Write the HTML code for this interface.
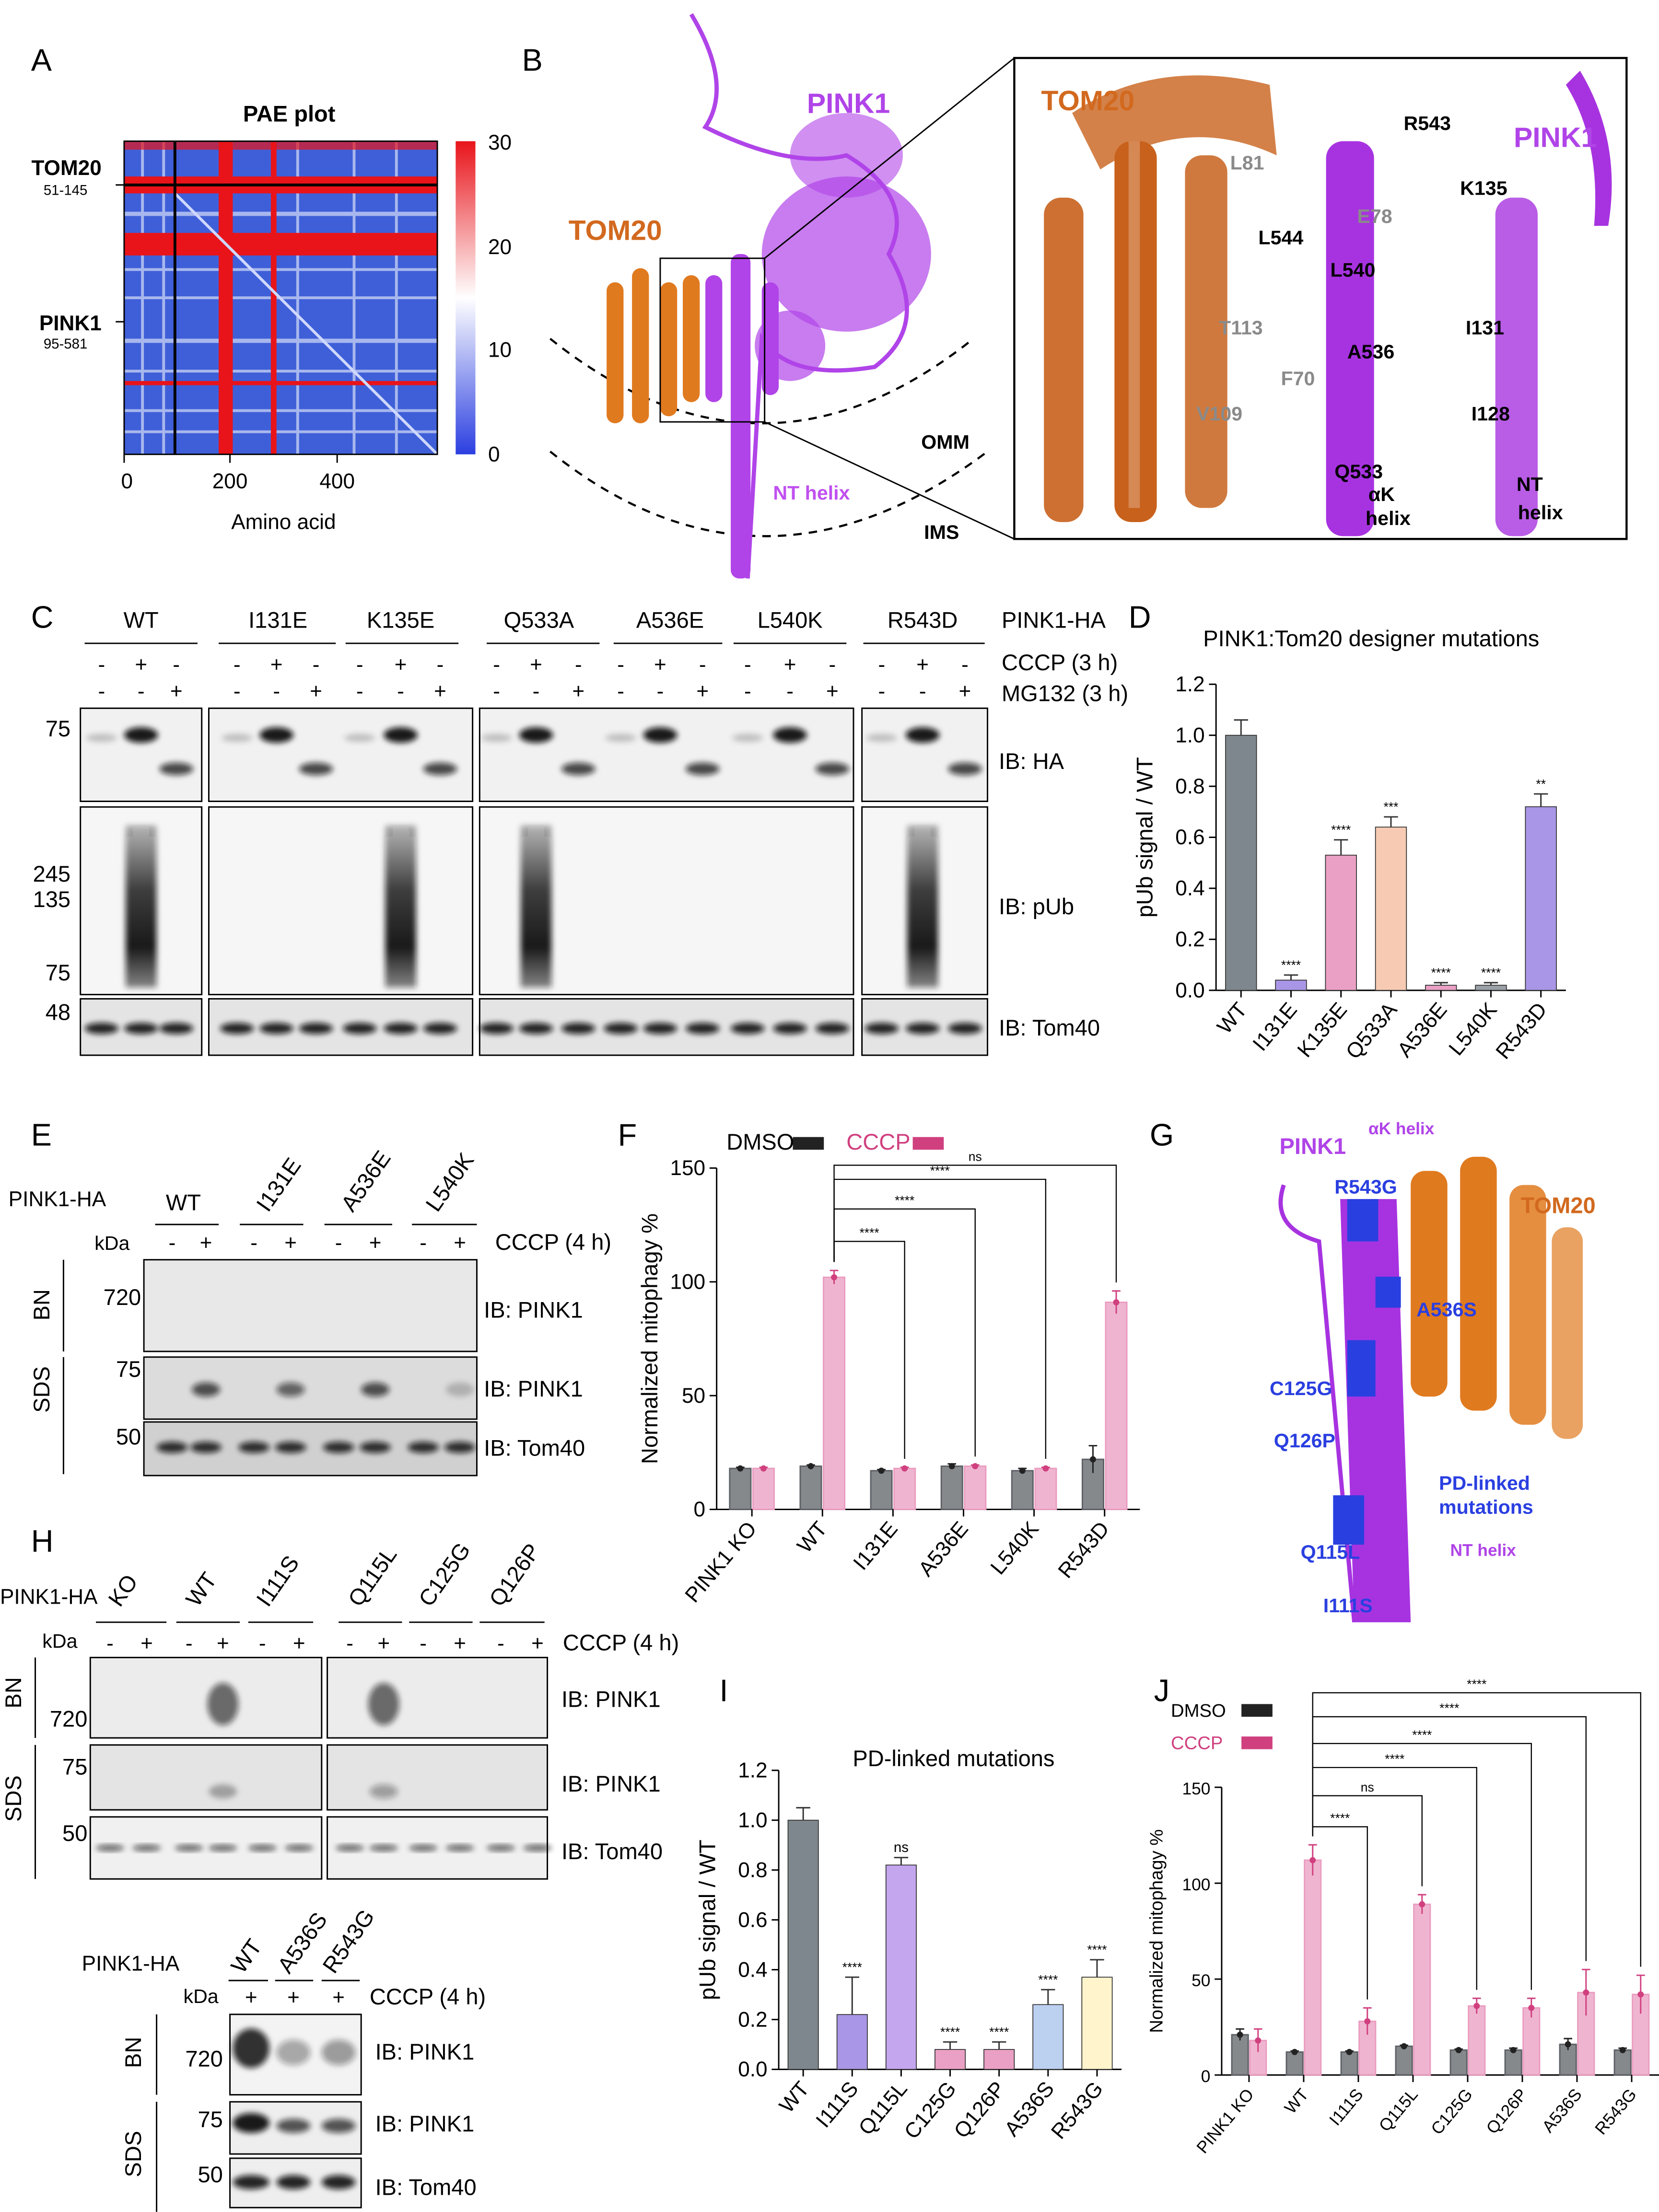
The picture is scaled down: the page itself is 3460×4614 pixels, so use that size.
<!DOCTYPE html>
<html><head><meta charset="utf-8">
<style>
html,body{margin:0;padding:0;background:#fff;}
svg{display:block;font-family:"Liberation Sans",Arial,sans-serif;}
</style></head>
<body>
<svg id="fig" xmlns="http://www.w3.org/2000/svg" width="3460" height="4614" viewBox="0 0 1176 1568">
<defs>
<filter id="bl" x="-50%" y="-50%" width="200%" height="200%"><feGaussianBlur stdDeviation="2"/></filter>
<filter id="bl2" x="-50%" y="-50%" width="200%" height="200%"><feGaussianBlur stdDeviation="4"/></filter>
<linearGradient id="cbar" x1="0" y1="1" x2="0" y2="0"><stop offset="0" stop-color="#2b3fe0"/><stop offset="0.5" stop-color="#ffffff"/><stop offset="1" stop-color="#e8141a"/></linearGradient>
<linearGradient id="smear" x1="0" y1="0" x2="0" y2="1"><stop offset="0" stop-color="#111" stop-opacity="0.3"/><stop offset="0.4" stop-color="#111" stop-opacity="0.8"/><stop offset="0.75" stop-color="#111" stop-opacity="0.95"/><stop offset="1" stop-color="#111" stop-opacity="0.5"/></linearGradient>
</defs>
<rect width="1176" height="1568" fill="#fff"/>
<g font-size="22">
<text x="22" y="50">A</text><text x="370" y="50">B</text><text x="22" y="445">C</text><text x="800" y="445">D</text>
<text x="22" y="812">E</text><text x="438" y="812">F</text><text x="815" y="812">G</text><text x="22" y="1100">H</text>
<text x="510" y="1206">I</text><text x="818" y="1206">J</text>
</g>
<!-- Panel A -->
<g>
<text x="205" y="86" font-size="16" font-weight="bold" text-anchor="middle">PAE plot</text>
<rect x="88" y="100" width="222" height="222" fill="#3f5fd8"/>
<g fill="#fff" opacity="0.55">
<rect x="88" y="150" width="222" height="3"/><rect x="88" y="190" width="222" height="2"/><rect x="88" y="210" width="222" height="2"/><rect x="88" y="240" width="222" height="3"/><rect x="88" y="262" width="222" height="2"/><rect x="88" y="290" width="222" height="2"/><rect x="88" y="305" width="222" height="2"/>
<rect x="100" y="100" width="2" height="222"/><rect x="115" y="100" width="2" height="222"/><rect x="210" y="100" width="2" height="222"/><rect x="250" y="100" width="2" height="222"/><rect x="280" y="100" width="2" height="222"/>
</g>
<rect x="88" y="125" width="222" height="12" fill="#e8141a"/>
<rect x="88" y="165" width="222" height="16" fill="#e8141a"/>
<rect x="88" y="270" width="222" height="3" fill="#e8141a"/>
<rect x="155" y="100" width="10" height="222" fill="#e8141a"/>
<rect x="192" y="100" width="4" height="222" fill="#e8141a"/>
<rect x="88" y="100" width="222" height="6" fill="#e8141a" opacity="0.7"/>
<line x1="124" y1="137" x2="310" y2="322" stroke="#cfd8ff" stroke-width="2"/>
<line x1="88" y1="131" x2="310" y2="131" stroke="#000" stroke-width="2"/>
<line x1="124" y1="100" x2="124" y2="322" stroke="#000" stroke-width="2"/>
<rect x="88" y="100" width="222" height="222" fill="none" stroke="#000"/>
<rect x="323" y="100" width="14" height="222" fill="url(#cbar)"/>
<g font-size="15"><text x="346" y="106">30</text><text x="346" y="180">20</text><text x="346" y="253">10</text><text x="346" y="327">0</text></g>
<g stroke="#000"><line x1="88" y1="322" x2="88" y2="328"/><line x1="163" y1="322" x2="163" y2="328"/><line x1="239" y1="322" x2="239" y2="328"/><line x1="82" y1="131" x2="88" y2="131"/><line x1="82" y1="228" x2="88" y2="228"/></g>
<g font-size="15" text-anchor="middle"><text x="90" y="346">0</text><text x="163" y="346">200</text><text x="239" y="346">400</text><text x="201" y="375">Amino acid</text></g>
<text x="72" y="124" font-size="15" font-weight="bold" text-anchor="end">TOM20</text><text x="62" y="138" font-size="10" text-anchor="end">51-145</text>
<text x="72" y="234" font-size="15" font-weight="bold" text-anchor="end">PINK1</text><text x="62" y="247" font-size="10" text-anchor="end">95-581</text>
</g>
<!-- Panel B -->
<g>
<path d="M390 240 Q540 360 690 240" fill="none" stroke="#000" stroke-dasharray="6,5" stroke-width="1.5"/>
<path d="M390 320 Q540 440 700 320" fill="none" stroke="#000" stroke-dasharray="6,5" stroke-width="1.5"/>
<text x="653" y="318" font-size="14" font-weight="bold">OMM</text><text x="655" y="382" font-size="14" font-weight="bold">IMS</text>
<path d="M490 10 Q520 60 500 90 Q560 120 600 110 Q650 140 630 180 Q660 230 620 260 Q560 270 540 240 L530 410" fill="none" stroke="#b044e8" stroke-width="3"/>
<g fill="#b044e8"><rect x="518" y="180" width="14" height="230" rx="6"/><rect x="500" y="195" width="12" height="90" rx="6"/><rect x="540" y="200" width="12" height="80" rx="6"/><ellipse cx="600" cy="180" rx="60" ry="55" opacity="0.7"/><ellipse cx="600" cy="110" rx="40" ry="30" opacity="0.6"/><ellipse cx="560" cy="245" rx="25" ry="25" opacity="0.7"/></g>
<g fill="#e07a1f"><rect x="430" y="200" width="12" height="100" rx="6"/><rect x="448" y="190" width="12" height="110" rx="6"/><rect x="468" y="200" width="12" height="95" rx="6"/><rect x="484" y="195" width="12" height="90" rx="6"/></g>
<text x="572" y="80" font-size="20" font-weight="bold" fill="#b044e8">PINK1</text>
<text x="403" y="170" font-size="20" font-weight="bold" fill="#d2691e">TOM20</text>
<text x="548" y="354" font-size="14" font-weight="bold" fill="#c050f0">NT helix</text>
<rect x="468" y="183" width="74" height="116" fill="none" stroke="#000"/>
<line x1="542" y1="183" x2="719" y2="41" stroke="#000"/><line x1="542" y1="299" x2="719" y2="382" stroke="#000"/>
<rect x="719" y="41" width="434" height="341" fill="#fff" stroke="#000" stroke-width="1.5"/>
<g fill="#c8611c"><rect x="740" y="140" width="28" height="230" rx="12" opacity="0.9"/><rect x="790" y="100" width="30" height="270" rx="12"/><rect x="840" y="110" width="30" height="250" rx="12" opacity="0.85"/><path d="M760 80 Q820 40 900 60 L905 110 Q840 80 780 120 Z" opacity="0.8"/></g>
<g fill="#fff" opacity="0.25"><rect x="800" y="100" width="8" height="260"/></g>
<g fill="#a733e0"><rect x="940" y="100" width="34" height="280" rx="12"/><rect x="1060" y="140" width="30" height="240" rx="12" opacity="0.8"/><path d="M1120 50 Q1150 100 1140 160 L1130 160 Q1135 100 1110 60 Z"/></g>
<text x="738" y="78" font-size="20" font-weight="bold" fill="#d2691e">TOM20</text><text x="1073" y="104" font-size="20" font-weight="bold" fill="#b044e8">PINK1</text>
<g font-size="14" font-weight="bold"><text x="995" y="92">R543</text><text x="1035" y="138">K135</text><text x="892" y="173">L544</text><text x="943" y="196">L540</text><text x="955" y="254">A536</text><text x="1039" y="237">I131</text><text x="1043" y="298">I128</text><text x="946" y="339">Q533</text><text x="970" y="355">αK</text><text x="968" y="372">helix</text><text x="1075" y="348">NT</text><text x="1076" y="368">helix</text></g>
<g font-size="14" font-weight="bold" fill="#8a8a8a"><text x="872" y="120">L81</text><text x="962" y="158">E78</text><text x="864" y="237">T113</text><text x="908" y="273">F70</text><text x="848" y="298">V109</text></g>
</g>
<!-- Panel C headers -->
<g font-size="16" text-anchor="middle">
<text x="100" y="445">WT</text><text x="197" y="445">I131E</text><text x="284" y="445">K135E</text><text x="382" y="445">Q533A</text><text x="475" y="445">A536E</text><text x="560" y="445">L540K</text><text x="654" y="445">R543D</text>
<g stroke="#000"><line x1="60" y1="456" x2="140" y2="456"/><line x1="155" y1="456" x2="238" y2="456"/><line x1="245" y1="456" x2="325" y2="456"/><line x1="345" y1="456" x2="425" y2="456"/><line x1="435" y1="456" x2="512" y2="456"/><line x1="520" y1="456" x2="600" y2="456"/><line x1="612" y1="456" x2="698" y2="456"/></g>
<g text-anchor="start"><text x="710" y="445">PINK1-HA</text><text x="710" y="475">CCCP (3 h)</text><text x="710" y="497">MG132 (3 h)</text><text x="708" y="545">IB: HA</text><text x="708" y="648">IB: pUb</text><text x="708" y="734">IB: Tom40</text></g>
<g text-anchor="end"><text x="50" y="522">75</text><text x="50" y="625">245</text><text x="50" y="643">135</text><text x="50" y="695">75</text><text x="50" y="723">48</text></g>
</g>
<g id="blotC"></g>
<g id="chartD"></g>
<!-- Panel E -->
<g font-size="16">
<text x="6" y="855" font-size="15">PINK1-HA</text>
<text x="130" y="858" text-anchor="middle">WT</text>
<text x="190" y="860" transform="rotate(-55 190 860)">I131E</text><text x="250" y="860" transform="rotate(-55 250 860)">A536E</text><text x="310" y="860" transform="rotate(-55 310 860)">L540K</text>
<g stroke="#000"><line x1="110" y1="868" x2="155" y2="868"/><line x1="170" y1="868" x2="215" y2="868"/><line x1="230" y1="868" x2="278" y2="868"/><line x1="292" y1="868" x2="338" y2="868"/></g>
<text x="67" y="886" font-size="14">kDa</text><text x="351" y="886">CCCP (4 h)</text>
<text x="343" y="934">IB: PINK1</text><text x="343" y="990">IB: PINK1</text><text x="343" y="1032">IB: Tom40</text>
<g text-anchor="end"><text x="100" y="925">720</text><text x="100" y="976">75</text><text x="100" y="1024">50</text></g>
<text x="35" y="925" transform="rotate(-90 35 925)" text-anchor="middle">BN</text><text x="35" y="985" transform="rotate(-90 35 985)" text-anchor="middle">SDS</text>
<line x1="45" y1="893" x2="45" y2="958" stroke="#000"/><line x1="45" y1="962" x2="45" y2="1045" stroke="#000"/>
</g>
<g id="blotE"></g>
<g id="chartF"></g>
<!-- Panel G -->
<g>
<path d="M910 840 Q900 870 935 880 L960 1150" fill="none" stroke="#a733e0" stroke-width="3"/>
<g fill="#a733e0"><path d="M950 850 L990 850 L1000 1150 L960 1150 Z"/></g>
<g fill="#2a3fe0"><rect x="955" y="850" width="22" height="30"/><rect x="975" y="905" width="18" height="22"/><rect x="955" y="950" width="20" height="40"/><rect x="945" y="1060" width="22" height="35"/></g>
<g fill="#e07a1f"><rect x="1000" y="830" width="26" height="160" rx="10"/><rect x="1035" y="820" width="26" height="180" rx="10"/><rect x="1070" y="840" width="26" height="170" rx="10" opacity="0.85"/><rect x="1100" y="870" width="22" height="150" rx="10" opacity="0.7"/></g>
<text x="907" y="818" font-size="16" font-weight="bold" fill="#b044e8">PINK1</text><text x="970" y="804" font-size="12" font-weight="bold" fill="#b044e8">αK helix</text>
<text x="1078" y="860" font-size="16" font-weight="bold" fill="#d2691e">TOM20</text>
<g font-size="14" font-weight="bold" fill="#2a3fe0"><text x="946" y="846">R543G</text><text x="1004" y="933">A536S</text><text x="900" y="989">C125G</text><text x="903" y="1026">Q126P</text><text x="1020" y="1056">PD-linked</text><text x="1020" y="1073">mutations</text><text x="922" y="1105">Q115L</text><text x="938" y="1143">I111S</text></g>
<text x="1028" y="1103" font-size="12" font-weight="bold" fill="#b044e8">NT helix</text>
</g>
<!-- Panel H -->
<g font-size="16">
<text x="0" y="1137" font-size="15">PINK1-HA</text>
<text x="85" y="1140" transform="rotate(-55 85 1140)">KO</text><text x="140" y="1140" transform="rotate(-55 140 1140)">WT</text><text x="190" y="1140" transform="rotate(-55 190 1140)">I111S</text><text x="255" y="1140" transform="rotate(-55 255 1140)">Q115L</text><text x="305" y="1140" transform="rotate(-55 305 1140)">C125G</text><text x="355" y="1140" transform="rotate(-55 355 1140)">Q126P</text>
<g stroke="#000"><line x1="68" y1="1150" x2="118" y2="1150"/><line x1="125" y1="1150" x2="170" y2="1150"/><line x1="176" y1="1150" x2="222" y2="1150"/><line x1="240" y1="1150" x2="285" y2="1150"/><line x1="290" y1="1150" x2="335" y2="1150"/><line x1="340" y1="1150" x2="386" y2="1150"/></g>
<text x="30" y="1168" font-size="14">kDa</text><text x="399" y="1170">CCCP (4 h)</text>
<text x="398" y="1210">IB: PINK1</text><text x="398" y="1270">IB: PINK1</text><text x="398" y="1318">IB: Tom40</text>
<g text-anchor="end"><text x="62" y="1224">720</text><text x="62" y="1258">75</text><text x="62" y="1305">50</text></g>
<text x="15" y="1200" transform="rotate(-90 15 1200)" text-anchor="middle">BN</text><text x="15" y="1275" transform="rotate(-90 15 1275)" text-anchor="middle">SDS</text>
<line x1="25" y1="1175" x2="25" y2="1232" stroke="#000"/><line x1="25" y1="1237" x2="25" y2="1332" stroke="#000"/>
<text x="58" y="1397" font-size="15">PINK1-HA</text>
<text x="172" y="1400" transform="rotate(-55 172 1400)">WT</text><text x="205" y="1400" transform="rotate(-55 205 1400)">A536S</text><text x="237" y="1400" transform="rotate(-55 237 1400)">R543G</text>
<g stroke="#000"><line x1="162" y1="1404" x2="190" y2="1404"/><line x1="195" y1="1404" x2="222" y2="1404"/><line x1="228" y1="1404" x2="255" y2="1404"/></g>
<text x="130" y="1420" font-size="14">kDa</text><text x="262" y="1421">CCCP (4 h)</text>
<text x="266" y="1460">IB: PINK1</text><text x="266" y="1511">IB: PINK1</text><text x="266" y="1556">IB: Tom40</text>
<g text-anchor="end"><text x="158" y="1465">720</text><text x="158" y="1508">75</text><text x="158" y="1547">50</text></g>
<text x="100" y="1455" transform="rotate(-90 100 1455)" text-anchor="middle">BN</text><text x="100" y="1527" transform="rotate(-90 100 1527)" text-anchor="middle">SDS</text>
<line x1="111" y1="1428" x2="111" y2="1485" stroke="#000"/><line x1="111" y1="1490" x2="111" y2="1568" stroke="#000"/>
</g>
<g id="blotH"></g>
<g id="chartI"></g>
<g id="chartJ"></g>
</svg>
<script>
var dCats = ["WT","I131E","K135E","Q533A","A536E","L540K","R543D"];
var dVals = [1.0,0.04,0.53,0.64,0.02,0.02,0.72];
var dErr = [0.06,0.02,0.06,0.04,0.01,0.01,0.05];
var dSig = ["","****","****","***","****","****","**"];
var dColors = ["#7e878d","#a996e6","#eaa0c4","#f7cbb3","#eaa0c4","#9aa0a6","#a996e6"];
var dTicks = [0,0.2,0.4,0.6,0.8,1.0,1.2];

var fCats = ["PINK1 KO","WT","I131E","A536E","L540K","R543D"];
var fDmso = [18,19,17,19,17,22];
var fCccp = [18,102,18,19,18,91];
var fDmsoErr = [0.5,0.5,0.5,1,1,6];
var fCccpErr = [0.5,3,0.5,0.5,0.5,5];
var fTicks = [0,50,100,150];

var iCats = ["WT","I111S","Q115L","C125G","Q126P","A536S","R543G"];
var iVals = [1.0,0.22,0.82,0.08,0.08,0.26,0.37];
var iErr = [0.05,0.15,0.03,0.03,0.03,0.06,0.07];
var iSig = ["","****","ns","****","****","****","****"];
var iColors = ["#7e878d","#a996e6","#c4a6ee","#eaa0c4","#eaa0c4","#bcd0f0","#fff4cc"];
var iTicks = [0,0.2,0.4,0.6,0.8,1.0,1.2];

var jCats = ["PINK1 KO","WT","I111S","Q115L","C125G","Q126P","A536S","R543G"];
var jDmso = [21,12,12,15,13,13,16,13];
var jCccp = [18,112,28,89,36,35,43,42];
var jDmsoErr = [3,0.5,0.5,0.5,0.5,1,3,1];
var jCccpErr = [6,8,7,5,4,5,12,10];
var jTicks = [0,50,100,150];

var NS="http://www.w3.org/2000/svg";
function mk(parent,tag,attrs,txt){var e=document.createElementNS(NS,tag);for(var k in attrs)e.setAttribute(k,attrs[k]);if(txt!==undefined)e.textContent=txt;parent.appendChild(e);return e;}

function singleBar(g,o){
  var y=function(v){return o.y0-(v-0)/(o.max)*(o.y0-o.y1);};
  var step=(o.x1-o.x0)/o.cats.length;
  mk(g,"line",{x1:o.x0,y1:o.y1,x2:o.x0,y2:o.y0,stroke:"#000"});
  mk(g,"line",{x1:o.x0,y1:o.y0,x2:o.x1,y2:o.y0,stroke:"#000"});
  o.ticks.forEach(function(t){
    mk(g,"line",{x1:o.x0-5,y1:y(t),x2:o.x0,y2:y(t),stroke:"#000"});
    var tl=mk(g,"text",{x:o.x0-8,y:y(t)+5,"font-size":15,"text-anchor":"end"},t.toFixed(1));
    
    
  });
  o.cats.forEach(function(c,i){
    var cx=o.x0+step*(i+0.5), w=step*0.62, v=o.vals[i];
    var b=mk(g,"rect",{x:cx-w/2,y:y(v),width:w,height:o.y0-y(v),fill:o.colors[i],stroke:"#333","stroke-width":0.6});
    
    
    var et=y(v+o.err[i]);
    mk(g,"line",{x1:cx,y1:y(v),x2:cx,y2:et,stroke:"#333"});
    mk(g,"line",{x1:cx-5,y1:et,x2:cx+5,y2:et,stroke:"#333"});
    if(o.sig[i]) mk(g,"text",{x:cx,y:et-4,"font-size":o.sig[i]=="ns"?10:9,"text-anchor":"middle"},o.sig[i]);
    mk(g,"line",{x1:cx,y1:o.y0,x2:cx,y2:o.y0+5,stroke:"#000"});
    var lab=mk(g,"text",{x:cx+5,y:o.y0+14,"font-size":15,"text-anchor":"end",transform:"rotate(-50 "+(cx+5)+" "+(o.y0+14)+")"},c);
    
    
  });
  mk(g,"text",{x:o.tx,y:o.ty,"font-size":16,"text-anchor":"middle"},o.title);
  var yl=mk(g,"text",{x:o.x0-45,y:(o.y0+o.y1)/2,"font-size":16,"text-anchor":"middle",transform:"rotate(-90 "+(o.x0-45)+" "+((o.y0+o.y1)/2)+")"},o.ylab);
  
  
}
singleBar(document.getElementById("chartD"),{x0:862,x1:1110,y0:702,y1:485,max:1.2,cats:dCats,vals:dVals,err:dErr,sig:dSig,colors:dColors,ticks:dTicks,title:"PINK1:Tom20 designer mutations",tx:972,ty:458,ylab:"pUb signal / WT"});
singleBar(document.getElementById("chartI"),{x0:552,x1:795,y0:1467,y1:1255,max:1.2,cats:iCats,vals:iVals,err:iErr,sig:iSig,colors:iColors,ticks:iTicks,title:"PD-linked mutations",tx:676,ty:1252,ylab:"pUb signal / WT"});

function groupBar(g,o){
  var y=function(v){return o.y0-v/o.max*(o.y0-o.y1);};
  var step=(o.x1-o.x0)/o.cats.length;
  mk(g,"line",{x1:o.x0,y1:o.y1,x2:o.x0,y2:o.y0,stroke:"#000"});
  mk(g,"line",{x1:o.x0,y1:o.y0,x2:o.x1,y2:o.y0,stroke:"#000"});
  o.ticks.forEach(function(t){
    mk(g,"line",{x1:o.x0-5,y1:y(t),x2:o.x0,y2:y(t),stroke:"#000"});
    var tl=mk(g,"text",{x:o.x0-8,y:y(t)+5,"font-size":o.fs,"text-anchor":"end"},t);
    
    
  });
  var centers=[];
  o.cats.forEach(function(c,i){
    var cx=o.x0+step*(i+0.5), w=step*0.3;
    [[o.dmso,o.dErr,"#5d6166",-1],[o.cccp,o.cErr,"#ea9cc0",1]].forEach(function(s){
      var v=s[0][i], bx=cx+s[3]*w*0.55;
      var b=mk(g,"rect",{x:bx-w/2,y:y(v),width:w,height:o.y0-y(v),fill:s[2],"fill-opacity":0.75,stroke:s[2]});
      
      
      var et=y(v+s[1][i]);
      mk(g,"line",{x1:bx,y1:y(v-s[1][i]),x2:bx,y2:et,stroke:s[3]<0?"#222":"#d0407f"});
      mk(g,"line",{x1:bx-3,y1:et,x2:bx+3,y2:et,stroke:s[3]<0?"#222":"#d0407f"});
      mk(g,"circle",{cx:bx,cy:y(v),r:2.2,fill:s[3]<0?"#222":"#d0407f"});
    });
    centers.push(cx);
    mk(g,"line",{x1:cx,y1:o.y0,x2:cx,y2:o.y0+5,stroke:"#000"});
    var lab=mk(g,"text",{x:cx+4,y:o.y0+14,"font-size":o.fs,"text-anchor":"end",transform:"rotate(-50 "+(cx+4)+" "+(o.y0+14)+")"},c);
    
    
  });
  var yl=mk(g,"text",{x:o.x0-42,y:(o.y0+o.y1)/2,"font-size":o.fs+1,"text-anchor":"middle",transform:"rotate(-90 "+(o.x0-42)+" "+((o.y0+o.y1)/2)+")"},"Normalized mitophagy %");
  
  
  var wx=centers[1]+step*0.3*0.55, wy=y(o.cccp[1]+o.cErr[1])-6;
  o.brk.forEach(function(b,k){
    var ti=b[0], lvl=o.brkY[k];
    var tx=centers[ti]+step*0.3*0.55;
    var ty=y(o.cccp[ti]+o.cErr[ti])-6;
    mk(g,"path",{d:"M"+wx+" "+wy+" L"+wx+" "+lvl+" L"+tx+" "+lvl+" L"+tx+" "+ty,fill:"none",stroke:"#000","stroke-width":0.8});
    mk(g,"text",{x:(wx+tx)/2,y:lvl-3,"font-size":9,"text-anchor":"middle"},b[1]);
  });
  var L=mk(g,"g",{});
  
  
  mk(L,"text",{x:o.lx,y:o.ly,"font-size":o.fs+1},"DMSO");
  mk(L,"rect",{x:o.lx+o.lw,y:o.ly-9,width:22,height:9,fill:"#222"});
  mk(L,"text",{x:o.lx2,y:o.ly2,"font-size":o.fs+1,fill:"#d0407f"},"CCCP");
  mk(L,"rect",{x:o.lx2+o.lw,y:o.ly2-9,width:22,height:9,fill:"#d0407f"});
}
groupBar(document.getElementById("chartF"),{x0:508,x1:808,y0:1070,y1:828,max:150,cats:fCats,dmso:fDmso,cccp:fCccp,dErr:fDmsoErr,cErr:fCccpErr,ticks:fTicks,fs:15,
  brk:[[2,"****"],[3,"****"],[4,"****"],[5,"ns"]],brkY:[880,857,836,826],lx:515,ly:815,lx2:600,ly2:815,lw:47});
groupBar(document.getElementById("chartJ"),{x0:866,x1:1176,y0:1471,y1:1267,max:150,cats:jCats,dmso:jDmso,cccp:jCccp,dErr:jDmsoErr,cErr:jCccpErr,ticks:jTicks,fs:12,
  brk:[[2,"****"],[3,"ns"],[4,"****"],[5,"****"],[6,"****"],[7,"****"]],brkY:[1295,1273,1253,1236,1217,1200],lx:830,ly:1217,lx2:830,ly2:1240,lw:50});

function blotBox(g,x,y,w,h,bg){var r=mk(g,"rect",{x:x,y:y,width:w,height:h,fill:bg||"#f1f1f1",stroke:"#000","stroke-width":1});}
function band(g,cx,cy,w,h,op){mk(g,"ellipse",{cx:cx,cy:cy,rx:w/2,ry:h/2,fill:"#111","fill-opacity":op,filter:"url(#bl)"});}
var gc=document.getElementById("blotC");
var cLanes=[72,100,125,168,196,224,255,284,312,352,380,410,440,468,498,530,560,590,625,654,684];
[[57,143],[148,335],[340,605],[611,700]].forEach(function(s){blotBox(gc,s[0],502,s[1]-s[0],66);blotBox(gc,s[0],572,s[1]-s[0],133,"#f6f6f6");blotBox(gc,s[0],708,s[1]-s[0],40,"#e4e4e4");});
cLanes.forEach(function(x,i){
  var t=i%3;
  if(t==0) band(gc,x,523,22,6,0.2);
  if(t==1) band(gc,x,521,24,11,0.95);
  if(t==2) band(gc,x,545,24,9,0.75);
  band(gc,x,729,24,8,0.9);
});
[100,284,380,654].forEach(function(x){
  mk(gc,"rect",{x:x-11,y:585,width:22,height:115,fill:"url(#smear)",filter:"url(#bl)"});
});
var ge=document.getElementById("blotE");
blotBox(ge,102,893,236,65,"#e8e8e8");blotBox(ge,102,962,236,44,"#dcdcdc");blotBox(ge,102,1008,236,38,"#d0d0d0");
[122,146,180,206,240,266,300,326].forEach(function(x,i){band(ge,x,1026,22,8,0.85);if(i%2==1)band(ge,x,985,20,10,[0.7,0.6,0.7,0.2][Math.floor(i/2)]);});
var gh=document.getElementById("blotH");
blotBox(gh,64,1175,164,57,"#ececec");blotBox(gh,232,1175,156,57,"#ececec");
blotBox(gh,64,1237,164,46,"#e4e4e4");blotBox(gh,232,1237,156,46,"#e4e4e4");
blotBox(gh,64,1288,164,44,"#f0f0f0");blotBox(gh,232,1288,156,44,"#f0f0f0");
[78,104,134,158,186,212,248,272,300,326,355,381].forEach(function(x){band(gh,x,1310,20,4,0.7);});
band(gh,158,1208,22,30,0.6);band(gh,272,1208,22,30,0.6);band(gh,158,1270,20,10,0.3);band(gh,272,1270,20,10,0.35);
blotBox(gh,163,1428,93,57,"#f3f3f3");blotBox(gh,163,1490,93,37,"#eeeeee");blotBox(gh,163,1530,93,35,"#eeeeee");
band(gh,178,1452,26,28,0.85);band(gh,208,1455,24,18,0.35);band(gh,240,1455,24,18,0.4);
band(gh,178,1505,26,14,0.95);band(gh,208,1507,24,10,0.7);band(gh,240,1507,24,10,0.7);
band(gh,178,1547,26,10,0.9);band(gh,208,1547,24,10,0.9);band(gh,240,1547,24,10,0.9);
function pm(g,xs,y,arr){xs.forEach(function(x,i){mk(g,"text",{x:x,y:y,"font-size":15,"text-anchor":"middle"},arr[i]);});}
var cc=[],mg=[];cLanes.forEach(function(x,i){cc.push(i%3==1?"+":"-");mg.push(i%3==2?"+":"-");});
pm(gc,cLanes,476,cc);pm(gc,cLanes,495,mg);
pm(ge,[122,146,180,206,240,266,300,326],886,["-","+","-","+","-","+","-","+"]);
pm(gh,[78,104,134,158,186,212,248,272,300,326,355,381],1170,["-","+","-","+","-","+","-","+","-","+","-","+"]);
pm(gh,[178,208,240],1421,["+","+","+"]);
</script>
</body></html>
